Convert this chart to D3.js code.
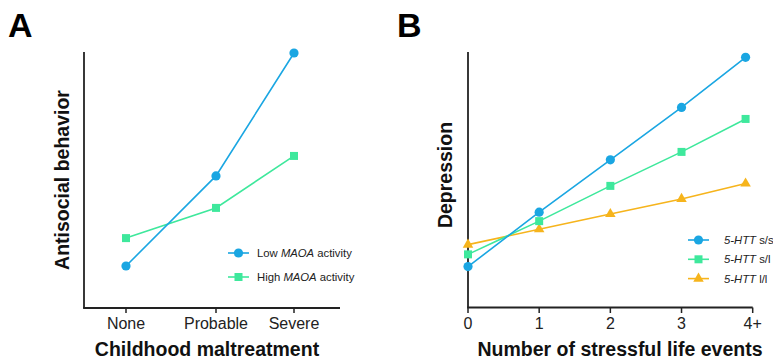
<!DOCTYPE html>
<html>
<head>
<meta charset="utf-8">
<script src="https://cdn.jsdelivr.net/npm/d3@7"></script>
<style>
  html, body { margin: 0; padding: 0; background: #fff; }
  svg { display: block; font-family: "Liberation Sans", Arial, sans-serif; }
</style>
</head>
<body>
<svg id="chart" width="773" height="360"></svg>
<script>
// Panel A: antisocial behaviour by childhood maltreatment and MAOA activity
const maltreatment = ["None", "Probable", "Severe"];
const lowMAOA = [16.4, 51.6, 99.6];
const highMAOA = [27.3, 39.1, 59.4];

// Panel B: depression by number of stressful life events and 5-HTT genotype
const lifeEventX = [0, 1, 2, 3, 3.9];
const lifeEventTicks = [0, 1, 2, 3, 4];
const lifeEventTickLabels = ["0", "1", "2", "3", "4+"];
const htt_ss = [16.0, 37.3, 57.8, 78.3, 97.9];
const htt_sl = [20.8, 33.8, 47.6, 60.9, 73.8];
const htt_ll = [24.6, 30.6, 36.6, 42.5, 48.5];
const genotypes = ["s/s", "s/l", "l/l"];

const BLUE = "#1aa6e2", GREEN = "#3ee89c", ORANGE = "#f6b41c";
const AXIS = "#222";
const TITLE_SIZE = 19.5;

const svg = d3.select("#chart");

function marker(g, shape, x, y, color) {
  if (shape === "circle") {
    g.append("circle").attr("cx", x).attr("cy", y).attr("r", 4.6).attr("fill", color);
  } else if (shape === "square") {
    g.append("rect").attr("x", x - 4).attr("y", y - 4).attr("width", 8).attr("height", 8).attr("fill", color);
  } else {
    g.append("path").attr("d", d3.symbol(d3.symbolTriangle, 48)()).attr("transform", `translate(${x},${y})`).attr("fill", color);
  }
}

function drawSeries(g, xs, ys, xScale, yScale, color, shape) {
  const pts = xs.map((x, i) => [xScale(x), yScale(ys[i])]);
  g.append("path")
    .attr("d", d3.line()(pts))
    .attr("fill", "none").attr("stroke", color).attr("stroke-width", 1.6);
  pts.forEach(p => marker(g, shape, p[0], p[1], color));
}

function legendRow(g, x, y, textGap, color, shape, parts) {
  g.append("line").attr("x1", x).attr("x2", x + 21).attr("y1", y).attr("y2", y)
    .attr("stroke", color).attr("stroke-width", 1.6);
  marker(g, shape, x + 10.5, y, color);
  const t = g.append("text").attr("x", x + textGap).attr("y", y).attr("dy", "0.35em")
    .attr("font-size", 11.3).attr("fill", "#222");
  parts.forEach(([s, it]) => t.append("tspan").text(s).attr("font-style", it ? "italic" : "normal"));
}

// ---------- Panel A ----------
{
  const g = svg.append("g");
  const x = d3.scalePoint().domain(maltreatment).range([126, 294]);
  const xPos = d => ({ None: 126, Probable: 216, Severe: 294 })[d];
  const y = d3.scaleLinear().domain([0, 100]).range([308, 52]);

  // axes
  g.append("line").attr("x1", 84).attr("x2", 84).attr("y1", 52).attr("y2", 308)
    .attr("stroke", AXIS).attr("stroke-width", 1.8);
  g.append("line").attr("x1", 83.1).attr("x2", 340).attr("y1", 308).attr("y2", 308)
    .attr("stroke", AXIS).attr("stroke-width", 1.8);
  maltreatment.forEach(d => {
    g.append("line").attr("x1", xPos(d)).attr("x2", xPos(d)).attr("y1", 308).attr("y2", 313)
      .attr("stroke", AXIS).attr("stroke-width", 1.5);
    g.append("text").attr("x", xPos(d)).attr("y", 329).attr("text-anchor", "middle")
      .attr("font-size", 16).attr("fill", "#222").text(d);
  });

  drawSeries(g, maltreatment, highMAOA, xPos, y, GREEN, "square");
  drawSeries(g, maltreatment, lowMAOA, xPos, y, BLUE, "circle");

  g.append("text").attr("x", 207).attr("y", 356).attr("text-anchor", "middle")
    .attr("font-size", TITLE_SIZE).attr("font-weight", "bold").attr("fill", "#111").text("Childhood maltreatment");
  g.append("text").attr("transform", "translate(69,180) rotate(-90)").attr("text-anchor", "middle")
    .attr("font-size", TITLE_SIZE).attr("font-weight", "bold").attr("fill", "#111").text("Antisocial behavior");
  g.append("text").attr("x", 8).attr("y", 37).attr("font-size", 34).attr("font-weight", "bold")
    .attr("fill", "#000").text("A");

  legendRow(g, 228, 253, 29, BLUE, "circle", [["Low ", false], ["MAOA", true], [" activity", false]]);
  legendRow(g, 228, 277, 29, GREEN, "square", [["High ", false], ["MAOA", true], [" activity", false]]);
}

// ---------- Panel B ----------
{
  const g = svg.append("g");
  const x = d3.scaleLinear().domain([0, 4]).range([468, 752.7]);
  const y = d3.scaleLinear().domain([0, 100]).range([307.5, 52]);

  g.append("line").attr("x1", 468).attr("x2", 468).attr("y1", 52).attr("y2", 307.5)
    .attr("stroke", AXIS).attr("stroke-width", 1.8);
  g.append("line").attr("x1", 467.1).attr("x2", 752.7).attr("y1", 307.5).attr("y2", 307.5)
    .attr("stroke", AXIS).attr("stroke-width", 1.8);
  lifeEventTicks.forEach((d, i) => {
    g.append("line").attr("x1", x(d)).attr("x2", x(d)).attr("y1", 307.5).attr("y2", 313)
      .attr("stroke", AXIS).attr("stroke-width", 1.5);
    g.append("text").attr("x", x(d)).attr("y", 329).attr("text-anchor", "middle")
      .attr("font-size", 16).attr("fill", "#222").text(lifeEventTickLabels[i]);
  });

  drawSeries(g, lifeEventX, htt_ll, x, y, ORANGE, "triangle");
  drawSeries(g, lifeEventX, htt_sl, x, y, GREEN, "square");
  drawSeries(g, lifeEventX, htt_ss, x, y, BLUE, "circle");

  g.append("text").attr("x", 620).attr("y", 356).attr("text-anchor", "middle")
    .attr("font-size", TITLE_SIZE).attr("font-weight", "bold").attr("fill", "#111").text("Number of stressful life events");
  g.append("text").attr("transform", "translate(452,175) rotate(-90)").attr("text-anchor", "middle")
    .attr("font-size", TITLE_SIZE).attr("font-weight", "bold").attr("fill", "#111").text("Depression");
  g.append("text").attr("x", 397).attr("y", 37).attr("font-size", 34).attr("font-weight", "bold")
    .attr("fill", "#000").text("B");

  const shapes = ["circle", "square", "triangle"];
  const colors = [BLUE, GREEN, ORANGE];
  genotypes.forEach((gt, i) => {
    legendRow(g, 688, 240 + i * 19.3, 36, colors[i], shapes[i], [["5-HTT", true], [" " + gt, false]]);
  });
}
</script>
</body>
</html>
